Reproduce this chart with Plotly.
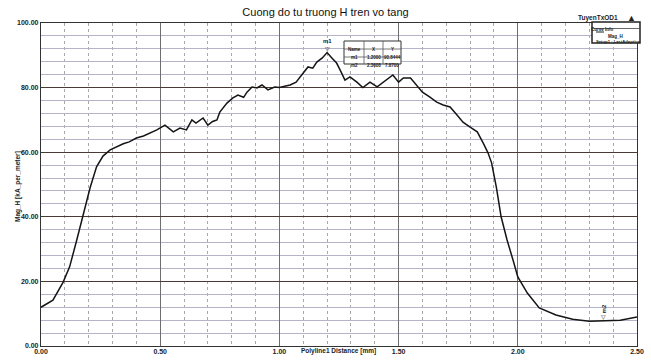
import plotly.graph_objects as go

# ---- data ----
distance = [0.00, 0.05, 0.093, 0.12, 0.15, 0.176, 0.206, 0.233, 0.26, 0.29,
            0.32, 0.345, 0.37, 0.40, 0.43, 0.457, 0.486, 0.52, 0.555, 0.583,
            0.61, 0.633, 0.65, 0.68, 0.70, 0.72, 0.738, 0.75, 0.78, 0.805,
            0.826, 0.85, 0.864, 0.885, 0.906, 0.927, 0.952, 0.98, 1.00, 1.045,
            1.07, 1.10, 1.12, 1.14, 1.157, 1.18, 1.20, 1.22, 1.24, 1.255,
            1.275, 1.296, 1.325, 1.35, 1.38, 1.41, 1.45, 1.476, 1.50, 1.52,
            1.55, 1.577, 1.60, 1.63, 1.66, 1.687, 1.716, 1.745, 1.77, 1.80,
            1.83, 1.855, 1.875, 1.89, 1.91, 1.93, 1.955, 1.98, 2.00, 2.04,
            2.09, 2.16, 2.23, 2.30, 2.3608, 2.43, 2.50]
mag_h = [12.0, 14.2, 19.8, 24.5, 32.8, 40.0, 49.0, 55.5, 58.8, 60.7,
         61.8, 62.6, 63.2, 64.4, 65.0, 65.9, 66.9, 68.4, 66.3, 67.5,
         66.9, 70.0, 69.0, 70.6, 68.4, 69.5, 70.0, 72.4, 75.2, 76.8,
         77.7, 77.0, 78.6, 80.2, 79.9, 80.8, 79.3, 80.2, 80.0, 80.8,
         81.7, 84.5, 86.4, 86.0, 87.9, 89.2, 90.84, 89.2, 87.6, 85.4,
         82.3, 83.3, 81.7, 80.0, 81.7, 80.2, 82.3, 83.9, 81.7, 83.0,
         83.0, 80.8, 78.6, 77.1, 75.5, 74.6, 74.0, 71.5, 69.3, 67.8,
         66.3, 62.8, 59.8, 56.7, 49.2, 40.0, 32.8, 26.6, 21.4, 16.4,
         11.8, 9.6, 8.3, 7.7, 7.87, 8.0, 9.0]

marker_names = ["m1", "m2"]
marker_x = [1.2000, 2.3608]
marker_y = [90.8444, 7.8700]

x_ticks = [0.0, 0.5, 1.0, 1.5, 2.0, 2.5]
y_ticks = [0, 20, 40, 60, 80, 100]

W, H = 651, 360
L, R, T, B = 41, 637, 23, 346


def px(xp):
    return (xp - L) / (R - L)


def py(yp):
    return (B - yp) / (B - T)


FONT = "Liberation Sans, Arial, sans-serif"
TXT = "#222"

fig = go.Figure()
fig.add_trace(go.Scatter(x=distance, y=mag_h, mode="lines",
                         line=dict(color="#151515", width=1.5),
                         showlegend=False, hoverinfo="skip"))

annotations = []
shapes = []

# marker labels on the curve
for name, mx, my in zip(marker_names, marker_x, marker_y):
    vertical = name == "m2"
    annotations.append(dict(x=mx, y=my, xref="x", yref="y", text="▽",
                            showarrow=False, font=dict(size=6, color=TXT, family=FONT),
                            yshift=4))
    annotations.append(dict(x=mx, y=my, xref="x", yref="y", text="<b>" + name + "</b>",
                            showarrow=False, font=dict(size=6, color=TXT, family=FONT),
                            yshift=12, textangle=-90 if vertical else 0))

# marker table
cols_px = [344, 364, 383, 401]
rows_px = [41, 49, 57, 64]
shapes.append(dict(type="rect", xref="paper", yref="paper",
                   x0=px(cols_px[0]), x1=px(cols_px[-1]), y0=py(rows_px[-1]), y1=py(rows_px[0]),
                   line=dict(color="#333", width=1), fillcolor="white", layer="above"))
for c in cols_px[1:-1]:
    shapes.append(dict(type="line", xref="paper", yref="paper", x0=px(c), x1=px(c),
                       y0=py(rows_px[-1]), y1=py(rows_px[0]), line=dict(color="#555", width=0.8)))
for r in rows_px[1:-1]:
    shapes.append(dict(type="line", xref="paper", yref="paper", x0=px(cols_px[0]), x1=px(cols_px[-1]),
                       y0=py(r), y1=py(r), line=dict(color="#555", width=0.8)))
header = ["Name", "X", "Y"]
table_rows = [header] + [[n, f"{x:.4f}", f"{y:.4f}"] for n, x, y in zip(marker_names, marker_x, marker_y)]
for ri, row in enumerate(table_rows):
    yc = (rows_px[ri] + rows_px[ri + 1]) / 2
    for ci, txt in enumerate(row):
        xc = (cols_px[ci] + cols_px[ci + 1]) / 2
        annotations.append(dict(x=px(xc), y=py(yc), xref="paper", yref="paper", text="<b>" + txt + "</b>",
                                showarrow=False, font=dict(size=4.5, color=TXT, family=FONT)))

# curve info box
shapes.append(dict(type="rect", xref="paper", yref="paper", x0=px(592), x1=px(640), y0=py(43), y1=py(22),
                   line=dict(color="#222", width=1.5), fillcolor="white", layer="above"))
shapes.append(dict(type="line", xref="paper", yref="paper", x0=px(592), x1=px(640), y0=py(28.5), y1=py(28.5),
                   line=dict(color="#444", width=0.8)))
shapes.append(dict(type="line", xref="paper", yref="paper", x0=px(596), x1=px(604), y0=py(32), y1=py(32),
                   line=dict(color="#222", width=1)))
annotations.append(dict(x=px(616), y=py(25.2), xref="paper", yref="paper", text="<b>Curve Info</b>",
                        showarrow=False, font=dict(size=4.5, color=TXT, family=FONT)))
annotations.append(dict(x=px(606), y=py(32), xref="paper", yref="paper", text="<b>Mag_H</b>",
                        showarrow=False, xanchor="left", font=dict(size=4.5, color=TXT, family=FONT)))
annotations.append(dict(x=px(594), y=py(37.5), xref="paper", yref="paper", text="<b>Setup1 : LastAdaptive</b>",
                        showarrow=False, xanchor="left", font=dict(size=4.2, color=TXT, family=FONT)))

# top-right tag
annotations.append(dict(x=px(620), y=py(12), xref="paper", yref="paper", text="<b>TuyenTxOD1</b>",
                        showarrow=False, xanchor="right", font=dict(size=6.5, color=TXT, family=FONT)))
annotations.append(dict(x=px(638), y=py(11), xref="paper", yref="paper", text="▲",
                        showarrow=False, font=dict(size=9, color=TXT, family=FONT)))

# axis titles
annotations.append(dict(x=px(12), y=py(187), xref="paper", yref="paper", text="<b>Mag_H [kA_per_meter]</b>",
                        showarrow=False, textangle=-90, font=dict(size=6.5, color=TXT, family=FONT)))
annotations.append(dict(x=px(338), y=py(357), xref="paper", yref="paper", text="<b>Polyline1 Distance [mm]</b>",
                        showarrow=False, font=dict(size=6.5, color=TXT, family=FONT)))

fig.update_layout(
    width=W, height=H,
    margin=dict(l=L, r=W - R, t=T, b=H - B),
    paper_bgcolor="white", plot_bgcolor="white",
    title=dict(text="Cuong do tu truong H tren vo tang", x=0.5, xanchor="center",
               y=1 - 12 / H, yanchor="middle",
               font=dict(size=11, color="#111", family=FONT)),
    xaxis=dict(range=[0, 2.5], tickvals=x_ticks, ticktext=[f"<b>{v:.2f}</b>" for v in x_ticks],
               showgrid=True, gridcolor="#6e6e6e", gridwidth=1,
               minor=dict(dtick=0.1, showgrid=True, gridcolor="#a8a8a8", griddash="dot", gridwidth=1),
               showline=True, linecolor="#333", linewidth=1.2, mirror=True,
               zeroline=False, ticks="", ticklabelstandoff=-2,
               tickfont=dict(size=7, color=TXT, family=FONT), automargin=False),
    yaxis=dict(range=[0, 100], tickvals=y_ticks, ticktext=[f"<b>{v:.2f}</b>" for v in y_ticks],
               showgrid=True, gridcolor="#4a3a34", gridwidth=1.2,
               minor=dict(dtick=4, showgrid=True, gridcolor="#b4b4c8", gridwidth=1),
               showline=True, linecolor="#333", linewidth=1.2, mirror=True,
               zeroline=False, ticks="", tickfont=dict(size=7, color=TXT, family=FONT),
               automargin=False),
    annotations=annotations,
    shapes=shapes,
)

fig.write_html("out.html", config={"displayModeBar": False},
               post_script="document.body.style.margin='0';document.body.style.padding='0';")
